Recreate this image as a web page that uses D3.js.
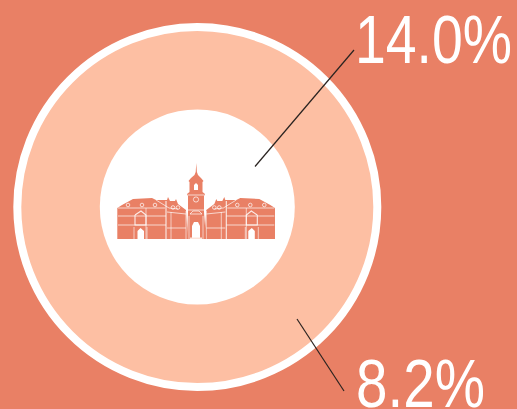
<!DOCTYPE html>
<html><head><meta charset="utf-8">
<script src="https://cdn.jsdelivr.net/npm/d3@7"></script>
<style>html,body{margin:0;padding:0;background:#E98065;overflow:hidden}svg{display:block}</style>
</head><body><script>
const labels = ["14.0%", "8.2%"];
const values = [14.0, 8.2];
const W = 517, H = 409, C = "#E98065", RING = "#FDBFA3";
const svg = d3.select("body").append("svg").attr("width", W).attr("height", H);
svg.append("rect").attr("width", W).attr("height", H).attr("fill", C);
const cx = 197.3, cy = 207;
const r = d3.scaleLinear().domain([8.2, 14]).range([97.5, 180]);
const g = svg.append("g").attr("transform", `translate(${cx},${cy})`);
g.append("circle").attr("r", r(values[0])).attr("fill", RING).attr("stroke", "#fff").attr("stroke-width", 8);
g.append("circle").attr("r", r(values[1])).attr("fill", "#fff");

// Building icon
const b = svg.append("g");
const line = d3.line();
const poly = (pts, fill) => b.append("path").attr("d", line(pts) + "Z").attr("fill", fill);
const wl = (pts, w = 0.8) => b.append("path").attr("d", line(pts)).attr("fill", "none").attr("stroke", "#fff").attr("stroke-opacity", .85).attr("stroke-width", w);
const mx = 196;
const both = f => { f(x => x); f(x => 2 * mx - x + 0.3); };
both(m => {
  const P = a => a.map(([x, y]) => [m(x), y]);
  poly(P([[117.3,239],[117.3,208],[122,205],[133,199],[152,198],[156,200],[167,200],[168,197],[170,201],[175,201],[176,199],[178,204],[186,210],[188,239]]), C);
  wl(P([[118,208],[165,208]]));
  wl(P([[118,216],[166,216]]));
  wl(P([[118,225],[166,225]]));
  wl(P([[167,212],[186,214]]));
  wl(P([[167,228],[186,228]]));
  wl(P([[166,201],[166,239]]), 1.1);
  wl(P([[171,212],[171,239]]), .7);
  wl(P([[186,211],[186,239]]), .7);
  wl(P([[146,208],[146,239]]), .7);
  wl(P([[156,200],[169,208],[178,209]]), .8);
  wl(P([[135,215],[135,225],[146,225],[146,215],[141,211],[135,215]]), 1.1);
  poly(P([[137.5,239],[137.5,231],[140.5,228],[144,231],[144,239]]), "#fff");
  wl(P([[134,227],[134,239]]), .7);
  wl(P([[147,227],[147,239]]), .7);
  [[142,205],[128,205],[173,207.5],[178,207.5],[155,205]].forEach(([x, y]) => {
    b.append("circle").attr("cx", m(x)).attr("cy", y).attr("r", 1.8).attr("fill", "none").attr("stroke", "#fff").attr("stroke-width", .7);
  });
});
// central tower
poly([[196.3,163],[196.9,172],[198,175],[201,178],[203.5,181],[202.5,182],[202.5,192],[205,194],[204,196],[204,212],[206,239],[187,239],[188,212],[188,196],[187,194],[189.5,192],[189.5,182],[188.5,181],[191,178],[194.5,175],[195.7,172]], C);
poly([[194,190],[194,185],[196,183],[198,185],[198,190]], "#fff");
wl([[188,195],[204,195]]);
wl([[188,210],[204,210]]);
b.append("circle").attr("cx", 196).attr("cy", 199.5).attr("r", 2.6).attr("fill", "none").attr("stroke", "#fff").attr("stroke-width", .7);
wl([[190,214],[193,211],[199,211],[202,214],[190,214]]);
poly([[192,238],[192,226],[194,222],[198,222],[200,226],[200,238]], "#fff");
poly([[190,239],[202,239],[202,237.5],[190,237.5]], "#fde4da");
wl([[189,216],[189,239]], .7);
wl([[203,216],[203,239]], .7);

// leader lines
const lines = svg.append("g").attr("stroke", "#2a2320").attr("stroke-width", 1.2);
lines.append("line").attr("x1", 354).attr("y1", 50).attr("x2", 255).attr("y2", 166.5);
lines.append("line").attr("x1", 297).attr("y1", 319).attr("x2", 344).attr("y2", 391);

// labels
const tx = [[355, 63, 157], [356, 407, 129]];
labels.forEach((t, i) => {
  svg.append("text").text(t).attr("x", tx[i][0]).attr("y", tx[i][1])
    .attr("textLength", tx[i][2]).attr("lengthAdjust", "spacingAndGlyphs")
    .attr("font-family", "'Liberation Sans', Arial, sans-serif")
    .attr("font-size", 68).attr("fill", "#fff");
});
</script></body></html>
